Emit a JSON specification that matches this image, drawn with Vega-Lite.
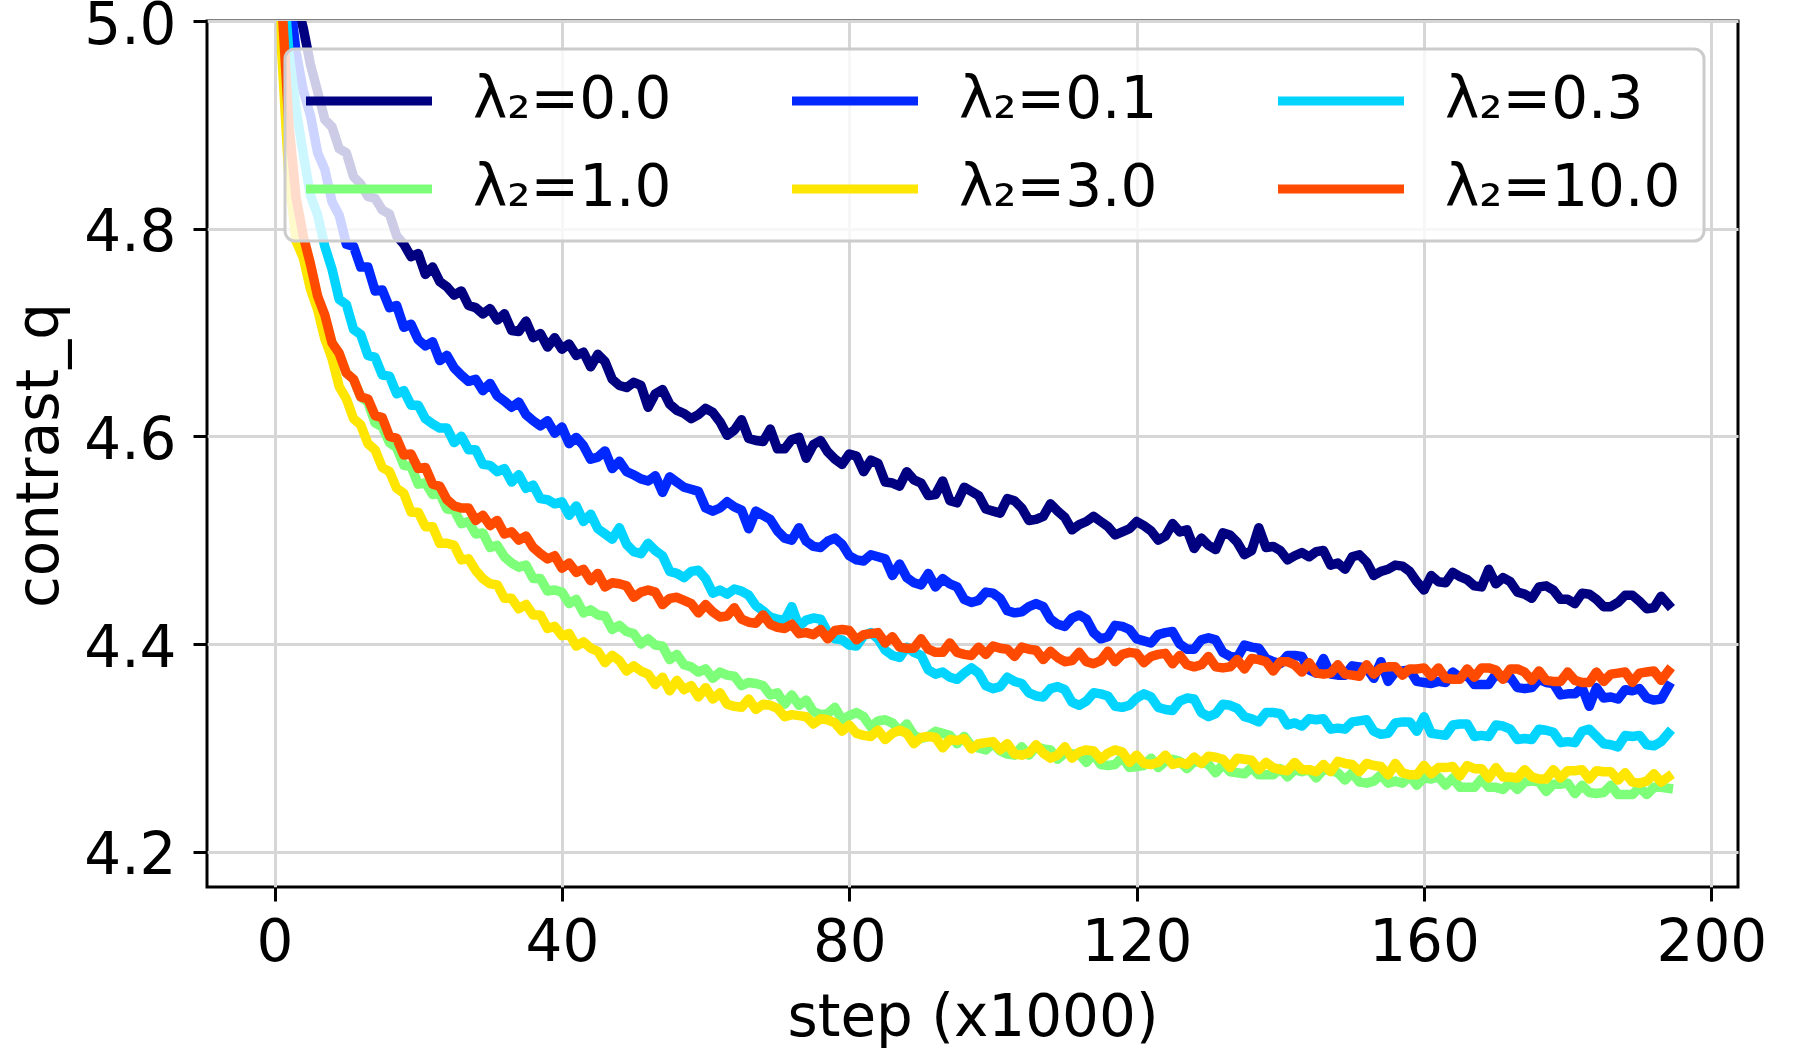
{
  "$schema": "https://vega.github.io/schema/vega-lite/v6.json",
  "width": 1531,
  "height": 866,
  "autosize": {"type": "none"},
  "padding": {"left": 207, "top": 21, "right": 62, "bottom": 163},
  "background": "white",
  "config": {
    "view": {"stroke": "black", "strokeWidth": 3},
    "font": "DejaVu Sans",
    "axis": {
      "domain": false,
      "grid": true,
      "gridColor": "#d6d6d6",
      "gridWidth": 3,
      "ticks": true,
      "tickColor": "black",
      "tickWidth": 3,
      "tickSize": 14,
      "labelFont": "DejaVu Sans",
      "labelFontSize": 58,
      "labelColor": "black",
      "titleFont": "DejaVu Sans",
      "titleFontSize": 58,
      "titleFontWeight": "normal",
      "titleColor": "black"
    },
    "legend": {
      "strokeWidth": 3
    }
  },
  "data": {
    "values": [
      {"x":0,"a":5.6,"b":5.5,"c":5.45,"d":5.38,"e":5.4,"f":5.42},
      {"x":1,"a":5.25,"b":5.15,"c":5.06,"d":4.99,"e":4.97,"f":5.02},
      {"x":2,"a":5.1,"b":5.03,"c":4.97,"d":4.87,"e":4.85,"f":4.9},
      {"x":3,"a":5.02,"b":4.97,"c":4.915,"d":4.815,"e":4.788,"f":4.83},
      {"x":4,"a":4.993,"b":4.933,"c":4.872,"d":4.789,"e":4.772,"f":4.793},
      {"x":5,"a":4.958,"b":4.909,"c":4.832,"d":4.764,"e":4.742,"f":4.766},
      {"x":6,"a":4.932,"b":4.873,"c":4.813,"d":4.733,"e":4.722,"f":4.735},
      {"x":7,"a":4.905,"b":4.857,"c":4.783,"d":4.715,"e":4.694,"f":4.717},
      {"x":8,"a":4.898,"b":4.826,"c":4.761,"d":4.69,"e":4.675,"f":4.69},
      {"x":9,"a":4.877,"b":4.813,"c":4.732,"d":4.679,"e":4.648,"f":4.68},
      {"x":10,"a":4.873,"b":4.785,"c":4.727,"d":4.661,"e":4.636,"f":4.661},
      {"x":11,"a":4.85,"b":4.783,"c":4.703,"d":4.655,"e":4.617,"f":4.655},
      {"x":12,"a":4.843,"b":4.763,"c":4.698,"d":4.638,"e":4.611,"f":4.638},
      {"x":13,"a":4.831,"b":4.763,"c":4.678,"d":4.633,"e":4.593,"f":4.636},
      {"x":14,"a":4.829,"b":4.74,"c":4.676,"d":4.613,"e":4.587,"f":4.62},
      {"x":15,"a":4.818,"b":4.741,"c":4.659,"d":4.609,"e":4.57,"f":4.618},
      {"x":16,"a":4.814,"b":4.724,"c":4.658,"d":4.594,"e":4.566,"f":4.6},
      {"x":17,"a":4.793,"b":4.726,"c":4.641,"d":4.589,"e":4.55,"f":4.598},
      {"x":18,"a":4.785,"b":4.705,"c":4.644,"d":4.572,"e":4.545,"f":4.582},
      {"x":19,"a":4.773,"b":4.708,"c":4.63,"d":4.571,"e":4.527,"f":4.583},
      {"x":20,"a":4.776,"b":4.693,"c":4.63,"d":4.554,"e":4.527,"f":4.569},
      {"x":21,"a":4.756,"b":4.687,"c":4.617,"d":4.555,"e":4.513,"f":4.57},
      {"x":22,"a":4.763,"b":4.691,"c":4.612,"d":4.544,"e":4.513,"f":4.554},
      {"x":23,"a":4.749,"b":4.673,"c":4.608,"d":4.545,"e":4.497,"f":4.552},
      {"x":24,"a":4.744,"b":4.678,"c":4.608,"d":4.53,"e":4.497,"f":4.539},
      {"x":25,"a":4.736,"b":4.666,"c":4.594,"d":4.529,"e":4.495,"f":4.533},
      {"x":26,"a":4.74,"b":4.659,"c":4.6,"d":4.516,"e":4.481,"f":4.531},
      {"x":27,"a":4.726,"b":4.653,"c":4.587,"d":4.518,"e":4.482,"f":4.531},
      {"x":28,"a":4.724,"b":4.655,"c":4.587,"d":4.506,"e":4.471,"f":4.519},
      {"x":29,"a":4.718,"b":4.644,"c":4.573,"d":4.507,"e":4.463,"f":4.524},
      {"x":30,"a":4.723,"b":4.651,"c":4.572,"d":4.493,"e":4.458,"f":4.514},
      {"x":31,"a":4.712,"b":4.639,"c":4.566,"d":4.495,"e":4.457,"f":4.519},
      {"x":32,"a":4.718,"b":4.634,"c":4.569,"d":4.484,"e":4.444,"f":4.506},
      {"x":33,"a":4.702,"b":4.628,"c":4.556,"d":4.478,"e":4.444,"f":4.508},
      {"x":34,"a":4.701,"b":4.633,"c":4.563,"d":4.474,"e":4.434,"f":4.5},
      {"x":35,"a":4.711,"b":4.621,"c":4.55,"d":4.476,"e":4.438,"f":4.504},
      {"x":36,"a":4.695,"b":4.615,"c":4.553,"d":4.463,"e":4.428,"f":4.493},
      {"x":37,"a":4.699,"b":4.61,"c":4.54,"d":4.463,"e":4.428,"f":4.487},
      {"x":38,"a":4.686,"b":4.615,"c":4.539,"d":4.451,"e":4.415,"f":4.482},
      {"x":39,"a":4.695,"b":4.603,"c":4.535,"d":4.452,"e":4.417,"f":4.485},
      {"x":40,"a":4.684,"b":4.609,"c":4.537,"d":4.45,"e":4.408,"f":4.473},
      {"x":41,"a":4.689,"b":4.593,"c":4.524,"d":4.439,"e":4.41,"f":4.478},
      {"x":42,"a":4.678,"b":4.599,"c":4.533,"d":4.443,"e":4.398,"f":4.469},
      {"x":43,"a":4.681,"b":4.591,"c":4.518,"d":4.43,"e":4.402,"f":4.472},
      {"x":44,"a":4.667,"b":4.578,"c":4.525,"d":4.433,"e":4.396,"f":4.461},
      {"x":45,"a":4.679,"b":4.58,"c":4.511,"d":4.428,"e":4.393,"f":4.468},
      {"x":46,"a":4.672,"b":4.586,"c":4.506,"d":4.427,"e":4.382,"f":4.455},
      {"x":47,"a":4.655,"b":4.569,"c":4.501,"d":4.414,"e":4.389,"f":4.459},
      {"x":48,"a":4.649,"b":4.576,"c":4.512,"d":4.418,"e":4.384,"f":4.458},
      {"x":49,"a":4.647,"b":4.566,"c":4.496,"d":4.412,"e":4.374,"f":4.456},
      {"x":50,"a":4.652,"b":4.563,"c":4.489,"d":4.41,"e":4.379,"f":4.445},
      {"x":51,"a":4.649,"b":4.559,"c":4.487,"d":4.4,"e":4.374,"f":4.45},
      {"x":52,"a":4.628,"b":4.557,"c":4.497,"d":4.405,"e":4.371,"f":4.452},
      {"x":53,"a":4.641,"b":4.562,"c":4.49,"d":4.399,"e":4.361,"f":4.45},
      {"x":54,"a":4.645,"b":4.546,"c":4.485,"d":4.398,"e":4.368,"f":4.438},
      {"x":55,"a":4.631,"b":4.561,"c":4.47,"d":4.385,"e":4.355,"f":4.444},
      {"x":56,"a":4.625,"b":4.556,"c":4.468,"d":4.39,"e":4.365,"f":4.445},
      {"x":57,"a":4.622,"b":4.551,"c":4.464,"d":4.38,"e":4.356,"f":4.442},
      {"x":58,"a":4.617,"b":4.549,"c":4.47,"d":4.378,"e":4.36,"f":4.439},
      {"x":59,"a":4.621,"b":4.547,"c":4.471,"d":4.373,"e":4.349,"f":4.43},
      {"x":60,"a":4.627,"b":4.531,"c":4.463,"d":4.376,"e":4.358,"f":4.438},
      {"x":61,"a":4.623,"b":4.528,"c":4.449,"d":4.367,"e":4.347,"f":4.431},
      {"x":62,"a":4.614,"b":4.531,"c":4.452,"d":4.373,"e":4.353,"f":4.426},
      {"x":63,"a":4.601,"b":4.537,"c":4.448,"d":4.37,"e":4.342,"f":4.427},
      {"x":64,"a":4.606,"b":4.532,"c":4.453,"d":4.369,"e":4.34,"f":4.435},
      {"x":65,"a":4.616,"b":4.529,"c":4.451,"d":4.36,"e":4.339,"f":4.424},
      {"x":66,"a":4.598,"b":4.511,"c":4.447,"d":4.363,"e":4.347,"f":4.421},
      {"x":67,"a":4.596,"b":4.528,"c":4.437,"d":4.362,"e":4.337,"f":4.42},
      {"x":68,"a":4.595,"b":4.524,"c":4.432,"d":4.36,"e":4.342,"f":4.428},
      {"x":69,"a":4.607,"b":4.52,"c":4.426,"d":4.351,"e":4.341,"f":4.419},
      {"x":70,"a":4.588,"b":4.509,"c":4.424,"d":4.353,"e":4.338,"f":4.416},
      {"x":71,"a":4.588,"b":4.502,"c":4.423,"d":4.342,"e":4.33,"f":4.415},
      {"x":72,"a":4.597,"b":4.5,"c":4.436,"d":4.351,"e":4.332,"f":4.419},
      {"x":73,"a":4.599,"b":4.512,"c":4.417,"d":4.341,"e":4.331,"f":4.41},
      {"x":74,"a":4.579,"b":4.499,"c":4.423,"d":4.346,"e":4.33,"f":4.411},
      {"x":75,"a":4.592,"b":4.494,"c":4.425,"d":4.335,"e":4.323,"f":4.409},
      {"x":76,"a":4.596,"b":4.493,"c":4.424,"d":4.332,"e":4.328,"f":4.414},
      {"x":77,"a":4.585,"b":4.499,"c":4.411,"d":4.333,"e":4.327,"f":4.405},
      {"x":78,"a":4.578,"b":4.502,"c":4.405,"d":4.339,"e":4.324,"f":4.413},
      {"x":79,"a":4.573,"b":4.496,"c":4.404,"d":4.327,"e":4.316,"f":4.414},
      {"x":80,"a":4.583,"b":4.485,"c":4.399,"d":4.331,"e":4.322,"f":4.413},
      {"x":81,"a":4.581,"b":4.481,"c":4.398,"d":4.334,"e":4.314,"f":4.404},
      {"x":82,"a":4.566,"b":4.48,"c":4.408,"d":4.33,"e":4.312,"f":4.409},
      {"x":83,"a":4.577,"b":4.486,"c":4.411,"d":4.32,"e":4.311,"f":4.41},
      {"x":84,"a":4.574,"b":4.484,"c":4.405,"d":4.326,"e":4.317,"f":4.411},
      {"x":85,"a":4.556,"b":4.482,"c":4.394,"d":4.327,"e":4.308,"f":4.401},
      {"x":86,"a":4.555,"b":4.466,"c":4.389,"d":4.324,"e":4.314,"f":4.407},
      {"x":87,"a":4.552,"b":4.477,"c":4.387,"d":4.316,"e":4.317,"f":4.397},
      {"x":88,"a":4.566,"b":4.464,"c":4.397,"d":4.323,"e":4.314,"f":4.396},
      {"x":89,"a":4.558,"b":4.459,"c":4.392,"d":4.312,"e":4.304,"f":4.396},
      {"x":90,"a":4.555,"b":4.457,"c":4.389,"d":4.309,"e":4.31,"f":4.405},
      {"x":91,"a":4.543,"b":4.468,"c":4.375,"d":4.311,"e":4.311,"f":4.395},
      {"x":92,"a":4.544,"b":4.455,"c":4.371,"d":4.316,"e":4.31,"f":4.392},
      {"x":93,"a":4.557,"b":4.463,"c":4.373,"d":4.314,"e":4.3,"f":4.392},
      {"x":94,"a":4.538,"b":4.458,"c":4.368,"d":4.312,"e":4.308,"f":4.401},
      {"x":95,"a":4.536,"b":4.455,"c":4.366,"d":4.304,"e":4.307,"f":4.392},
      {"x":96,"a":4.551,"b":4.443,"c":4.372,"d":4.311,"e":4.309,"f":4.39},
      {"x":97,"a":4.547,"b":4.44,"c":4.377,"d":4.302,"e":4.299,"f":4.389},
      {"x":98,"a":4.543,"b":4.442,"c":4.372,"d":4.3,"e":4.304,"f":4.397},
      {"x":99,"a":4.53,"b":4.45,"c":4.36,"d":4.298,"e":4.305,"f":4.39},
      {"x":100,"a":4.528,"b":4.449,"c":4.357,"d":4.304,"e":4.306,"f":4.398},
      {"x":101,"a":4.526,"b":4.444,"c":4.359,"d":4.297,"e":4.298,"f":4.396},
      {"x":102,"a":4.54,"b":4.432,"c":4.368,"d":4.294,"e":4.304,"f":4.395},
      {"x":103,"a":4.538,"b":4.43,"c":4.364,"d":4.293,"e":4.294,"f":4.388},
      {"x":104,"a":4.531,"b":4.431,"c":4.362,"d":4.301,"e":4.293,"f":4.397},
      {"x":105,"a":4.519,"b":4.436,"c":4.353,"d":4.293,"e":4.295,"f":4.395},
      {"x":106,"a":4.52,"b":4.439,"c":4.35,"d":4.301,"e":4.303,"f":4.394},
      {"x":107,"a":4.523,"b":4.436,"c":4.349,"d":4.299,"e":4.295,"f":4.385},
      {"x":108,"a":4.535,"b":4.424,"c":4.357,"d":4.298,"e":4.29,"f":4.393},
      {"x":109,"a":4.528,"b":4.419,"c":4.359,"d":4.289,"e":4.293,"f":4.387},
      {"x":110,"a":4.522,"b":4.417,"c":4.356,"d":4.295,"e":4.301,"f":4.383},
      {"x":111,"a":4.51,"b":4.425,"c":4.344,"d":4.294,"e":4.29,"f":4.384},
      {"x":112,"a":4.515,"b":4.428,"c":4.341,"d":4.294,"e":4.296,"f":4.392},
      {"x":113,"a":4.518,"b":4.424,"c":4.345,"d":4.286,"e":4.298,"f":4.383},
      {"x":114,"a":4.523,"b":4.411,"c":4.353,"d":4.294,"e":4.297,"f":4.381},
      {"x":115,"a":4.518,"b":4.405,"c":4.352,"d":4.284,"e":4.289,"f":4.384},
      {"x":116,"a":4.513,"b":4.407,"c":4.35,"d":4.283,"e":4.295,"f":4.393},
      {"x":117,"a":4.505,"b":4.418,"c":4.34,"d":4.284,"e":4.298,"f":4.383},
      {"x":118,"a":4.508,"b":4.417,"c":4.339,"d":4.291,"e":4.296,"f":4.39},
      {"x":119,"a":4.511,"b":4.414,"c":4.341,"d":4.281,"e":4.286,"f":4.392},
      {"x":120,"a":4.518,"b":4.405,"c":4.348,"d":4.282,"e":4.293,"f":4.391},
      {"x":121,"a":4.514,"b":4.403,"c":4.352,"d":4.283,"e":4.285,"f":4.382},
      {"x":122,"a":4.509,"b":4.401,"c":4.349,"d":4.29,"e":4.284,"f":4.388},
      {"x":123,"a":4.5,"b":4.409,"c":4.339,"d":4.281,"e":4.286,"f":4.39},
      {"x":124,"a":4.504,"b":4.411,"c":4.337,"d":4.287,"e":4.293,"f":4.391},
      {"x":125,"a":4.516,"b":4.412,"c":4.336,"d":4.289,"e":4.284,"f":4.381},
      {"x":126,"a":4.508,"b":4.4,"c":4.345,"d":4.287,"e":4.286,"f":4.389},
      {"x":127,"a":4.51,"b":4.395,"c":4.348,"d":4.28,"e":4.284,"f":4.38},
      {"x":128,"a":4.492,"b":4.395,"c":4.347,"d":4.287,"e":4.291,"f":4.378},
      {"x":129,"a":4.502,"b":4.404,"c":4.334,"d":4.286,"e":4.285,"f":4.38},
      {"x":130,"a":4.495,"b":4.406,"c":4.33,"d":4.284,"e":4.292,"f":4.388},
      {"x":131,"a":4.491,"b":4.404,"c":4.333,"d":4.276,"e":4.291,"f":4.378},
      {"x":132,"a":4.507,"b":4.392,"c":4.342,"d":4.284,"e":4.289,"f":4.377},
      {"x":133,"a":4.505,"b":4.388,"c":4.341,"d":4.277,"e":4.281,"f":4.378},
      {"x":134,"a":4.498,"b":4.387,"c":4.338,"d":4.276,"e":4.29,"f":4.385},
      {"x":135,"a":4.486,"b":4.399,"c":4.33,"d":4.275,"e":4.289,"f":4.376},
      {"x":136,"a":4.49,"b":4.397,"c":4.328,"d":4.281,"e":4.288,"f":4.386},
      {"x":137,"a":4.512,"b":4.396,"c":4.325,"d":4.274,"e":4.279,"f":4.385},
      {"x":138,"a":4.493,"b":4.386,"c":4.334,"d":4.274,"e":4.286,"f":4.383},
      {"x":139,"a":4.494,"b":4.383,"c":4.334,"d":4.274,"e":4.281,"f":4.374},
      {"x":140,"a":4.49,"b":4.381,"c":4.333,"d":4.28,"e":4.279,"f":4.383},
      {"x":141,"a":4.481,"b":4.389,"c":4.322,"d":4.272,"e":4.278,"f":4.383},
      {"x":142,"a":4.485,"b":4.389,"c":4.324,"d":4.279,"e":4.286,"f":4.38},
      {"x":143,"a":4.488,"b":4.388,"c":4.321,"d":4.277,"e":4.279,"f":4.373},
      {"x":144,"a":4.484,"b":4.375,"c":4.328,"d":4.279,"e":4.279,"f":4.382},
      {"x":145,"a":4.489,"b":4.372,"c":4.327,"d":4.271,"e":4.277,"f":4.372},
      {"x":146,"a":4.49,"b":4.386,"c":4.328,"d":4.279,"e":4.284,"f":4.371},
      {"x":147,"a":4.476,"b":4.371,"c":4.318,"d":4.278,"e":4.277,"f":4.372},
      {"x":148,"a":4.478,"b":4.37,"c":4.319,"d":4.276,"e":4.287,"f":4.38},
      {"x":149,"a":4.472,"b":4.37,"c":4.318,"d":4.269,"e":4.285,"f":4.371},
      {"x":150,"a":4.484,"b":4.379,"c":4.325,"d":4.276,"e":4.284,"f":4.37},
      {"x":151,"a":4.486,"b":4.378,"c":4.326,"d":4.267,"e":4.277,"f":4.369},
      {"x":152,"a":4.479,"b":4.377,"c":4.327,"d":4.266,"e":4.285,"f":4.38},
      {"x":153,"a":4.466,"b":4.367,"c":4.316,"d":4.268,"e":4.283,"f":4.371},
      {"x":154,"a":4.47,"b":4.383,"c":4.313,"d":4.274,"e":4.282,"f":4.377},
      {"x":155,"a":4.472,"b":4.364,"c":4.314,"d":4.266,"e":4.274,"f":4.378},
      {"x":156,"a":4.476,"b":4.373,"c":4.324,"d":4.268,"e":4.285,"f":4.378},
      {"x":157,"a":4.475,"b":4.374,"c":4.325,"d":4.266,"e":4.276,"f":4.37},
      {"x":158,"a":4.47,"b":4.375,"c":4.325,"d":4.273,"e":4.274,"f":4.376},
      {"x":159,"a":4.46,"b":4.364,"c":4.316,"d":4.264,"e":4.274,"f":4.376},
      {"x":160,"a":4.452,"b":4.363,"c":4.33,"d":4.271,"e":4.283,"f":4.377},
      {"x":161,"a":4.466,"b":4.362,"c":4.314,"d":4.27,"e":4.275,"f":4.369},
      {"x":162,"a":4.46,"b":4.364,"c":4.313,"d":4.272,"e":4.281,"f":4.377},
      {"x":163,"a":4.459,"b":4.363,"c":4.312,"d":4.264,"e":4.281,"f":4.367},
      {"x":164,"a":4.469,"b":4.373,"c":4.322,"d":4.271,"e":4.282,"f":4.366},
      {"x":165,"a":4.465,"b":4.368,"c":4.323,"d":4.262,"e":4.273,"f":4.366},
      {"x":166,"a":4.462,"b":4.37,"c":4.323,"d":4.262,"e":4.283,"f":4.376},
      {"x":167,"a":4.456,"b":4.361,"c":4.311,"d":4.262,"e":4.28,"f":4.368},
      {"x":168,"a":4.455,"b":4.361,"c":4.312,"d":4.27,"e":4.28,"f":4.377},
      {"x":169,"a":4.472,"b":4.361,"c":4.311,"d":4.262,"e":4.271,"f":4.377},
      {"x":170,"a":4.458,"b":4.371,"c":4.322,"d":4.262,"e":4.281,"f":4.375},
      {"x":171,"a":4.464,"b":4.367,"c":4.321,"d":4.26,"e":4.272,"f":4.366},
      {"x":172,"a":4.46,"b":4.368,"c":4.318,"d":4.267,"e":4.272,"f":4.376},
      {"x":173,"a":4.45,"b":4.358,"c":4.308,"d":4.26,"e":4.271,"f":4.376},
      {"x":174,"a":4.448,"b":4.357,"c":4.309,"d":4.267,"e":4.279,"f":4.373},
      {"x":175,"a":4.444,"b":4.358,"c":4.308,"d":4.268,"e":4.272,"f":4.365},
      {"x":176,"a":4.455,"b":4.366,"c":4.318,"d":4.267,"e":4.27,"f":4.374},
      {"x":177,"a":4.456,"b":4.363,"c":4.317,"d":4.258,"e":4.27,"f":4.365},
      {"x":178,"a":4.452,"b":4.362,"c":4.315,"d":4.265,"e":4.279,"f":4.364},
      {"x":179,"a":4.443,"b":4.351,"c":4.305,"d":4.265,"e":4.271,"f":4.364},
      {"x":180,"a":4.443,"b":4.352,"c":4.306,"d":4.266,"e":4.278,"f":4.373},
      {"x":181,"a":4.439,"b":4.352,"c":4.305,"d":4.256,"e":4.278,"f":4.365},
      {"x":182,"a":4.449,"b":4.358,"c":4.316,"d":4.264,"e":4.279,"f":4.363},
      {"x":183,"a":4.448,"b":4.34,"c":4.318,"d":4.257,"e":4.27,"f":4.363},
      {"x":184,"a":4.443,"b":4.358,"c":4.311,"d":4.256,"e":4.278,"f":4.373},
      {"x":185,"a":4.436,"b":4.348,"c":4.304,"d":4.257,"e":4.277,"f":4.364},
      {"x":186,"a":4.436,"b":4.349,"c":4.303,"d":4.264,"e":4.277,"f":4.371},
      {"x":187,"a":4.44,"b":4.347,"c":4.301,"d":4.255,"e":4.269,"f":4.372},
      {"x":188,"a":4.447,"b":4.356,"c":4.312,"d":4.255,"e":4.276,"f":4.373},
      {"x":189,"a":4.447,"b":4.355,"c":4.311,"d":4.255,"e":4.267,"f":4.363},
      {"x":190,"a":4.441,"b":4.357,"c":4.312,"d":4.262,"e":4.266,"f":4.372},
      {"x":191,"a":4.434,"b":4.348,"c":4.303,"d":4.255,"e":4.268,"f":4.373},
      {"x":192,"a":4.435,"b":4.346,"c":4.302,"d":4.262,"e":4.275,"f":4.374},
      {"x":193,"a":4.446,"b":4.347,"c":4.306,"d":4.262,"e":4.267,"f":4.365},
      {"x":194,"a":4.438,"b":4.359,"c":4.314,"d":4.261,"e":4.272,"f":4.374}
    ]
  },
  "transform": [
    {"fold": ["a", "b", "c", "d", "e", "f"], "as": ["s", "v"]}
  ],
  "mark": {
    "type": "line",
    "clip": true,
    "strokeWidth": 9.5,
    "strokeJoin": "round",
    "strokeCap": "square"
  },
  "encoding": {
    "x": {
      "field": "x",
      "type": "quantitative",
      "title": "step (x1000)",
      "scale": {"domain": [-9.4, 203.7], "nice": false, "zero": false},
      "axis": {
        "values": [0, 40, 80, 120, 160, 200],
        "labelPadding": 13,
        "titleBaseline": "alphabetic",
        "titleY": 148
      }
    },
    "y": {
      "field": "v",
      "type": "quantitative",
      "title": "contrast_q",
      "scale": {"domain": [4.166, 5.0], "nice": false, "zero": false},
      "axis": {
        "values": [4.2, 4.4, 4.6, 4.8, 5.0],
        "format": ".1f",
        "labelPadding": 17,
        "labelOffset": 5,
        "titleAngle": 270,
        "titleAlign": "center",
        "titleBaseline": "alphabetic",
        "titleX": -150,
        "titleY": 434
      }
    },
    "color": {
      "field": "s",
      "type": "nominal",
      "scale": {
        "domain": ["a", "b", "c", "d", "e", "f"],
        "range": ["#000080", "#0028ff", "#00d4ff", "#7dff7a", "#ffe600", "#ff4a00"]
      },
      "legend": {
        "title": null,
        "orient": "none",
        "legendX": 78,
        "legendY": 28,
        "columns": 3,
        "direction": "horizontal",
        "symbolType": "M-3,0H3",
        "symbolSize": 1764,
        "symbolOffset": 32,
        "symbolStrokeWidth": 9,
        "labelFont": "DejaVu Sans",
        "labelFontSize": 58,
        "labelColor": "black",
        "labelOffset": 75,
        "labelLimit": 500,
        "columnPadding": 102,
        "rowPadding": 30,
        "padding": 23,
        "fillColor": "rgba(255,255,255,0.8)",
        "strokeColor": "#cccccc",
        "cornerRadius": 10,
        "labelExpr": "datum.value == 'a' ? 'λ₂=0.0' : datum.value == 'b' ? 'λ₂=0.1' : datum.value == 'c' ? 'λ₂=0.3' : datum.value == 'd' ? 'λ₂=1.0' : datum.value == 'e' ? 'λ₂=3.0' : 'λ₂=10.0'"
      }
    }
  }
}
